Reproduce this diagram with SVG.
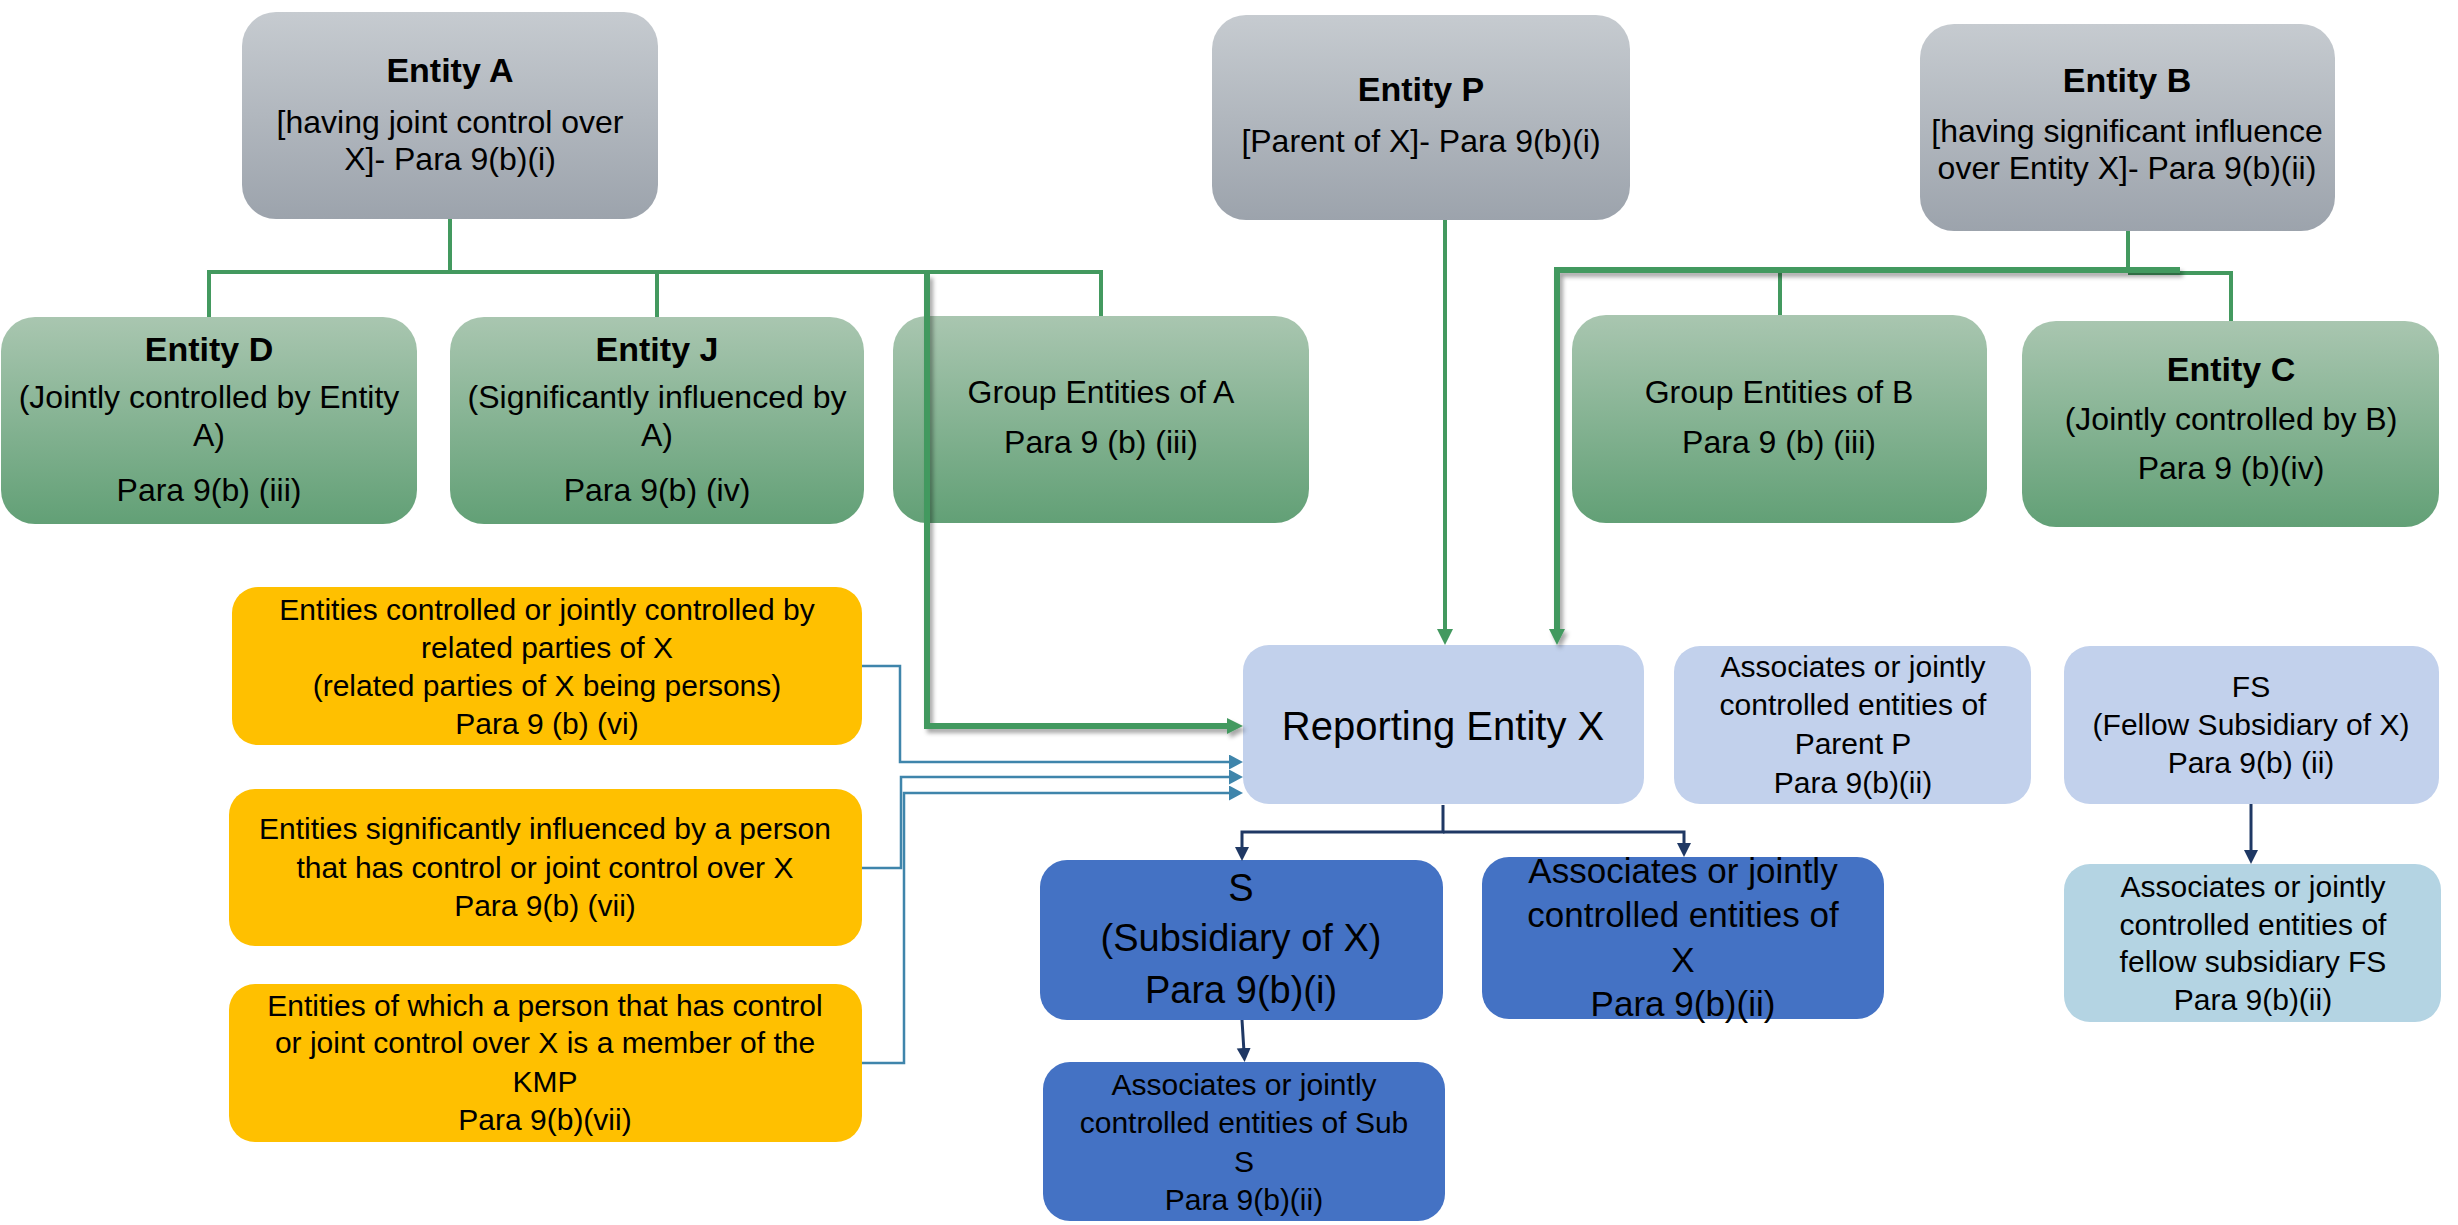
<svg xmlns="http://www.w3.org/2000/svg" width="2458" height="1225" viewBox="0 0 2458 1225">
  <style>
    text { font-family: "Liberation Sans", Arial, sans-serif; fill: #000; text-anchor: middle; }
    .title { font-weight: bold; font-size: 34px; }
    .f32 { font-size: 32px; }
    .f30 { font-size: 30px; }
    .f35 { font-size: 35px; }
    .f38 { font-size: 38px; }
    .f40 { font-size: 40px; }
    .gray { fill: url(#gradGray); }
    .green { fill: url(#gradGreen); }
    .yellow { fill: #ffc000; }
    .pale { fill: #c2d1ec; }
    .royal { fill: #4472c4; }
    .ice { fill: #b4d4e3; }
    .gline { fill: none; stroke: #43995f; stroke-width: 4; }
    .gthick { fill: none; stroke: #43995f; stroke-width: 6; filter: url(#shadow); }
    .bline { fill: none; stroke: #3f85ab; stroke-width: 2.5; }
    .nline { fill: none; stroke: #1f3864; stroke-width: 3; }
  </style>
  <defs>
    <linearGradient id="gradGray" x1="0" y1="0" x2="0" y2="1">
      <stop offset="0" stop-color="#c6cbd0"/>
      <stop offset="1" stop-color="#9ca3ac"/>
    </linearGradient>
    <linearGradient id="gradGreen" x1="0" y1="0" x2="0" y2="1">
      <stop offset="0" stop-color="#a9c6b0"/>
      <stop offset="1" stop-color="#62a076"/>
    </linearGradient>
    <filter id="shadow" x="-20%" y="-20%" width="140%" height="140%">
      <feDropShadow dx="3" dy="4" stdDeviation="2" flood-color="#000" flood-opacity="0.35"/>
    </filter>
    <marker id="arrGreen" markerUnits="userSpaceOnUse" markerWidth="18" markerHeight="18" refX="6" refY="8" orient="auto">
      <path d="M0,0 L16,8 L0,16 z" fill="#43995f"/>
    </marker>
    <marker id="arrBlue" markerUnits="userSpaceOnUse" markerWidth="16" markerHeight="16" refX="4" refY="7.5" orient="auto">
      <path d="M0,0 L14,7.5 L0,15 z" fill="#3f85ab"/>
    </marker>
    <marker id="arrNavy" markerUnits="userSpaceOnUse" markerWidth="16" markerHeight="16" refX="4" refY="7" orient="auto">
      <path d="M0,0 L14,7 L0,14 z" fill="#1f3864"/>
    </marker>
  </defs>

  <rect width="2458" height="1225" fill="#fff"/>

  <g id="entity-a">
    <rect class="gray" x="242" y="12" width="416" height="207" rx="34"/>
    <text class="title" x="450" y="82">Entity A</text>
    <text class="f32" x="450" y="133">[having joint control over</text>
    <text class="f32" x="450" y="170">X]- Para 9(b)(i)</text>
  </g>

  <g id="entity-p">
    <rect class="gray" x="1212" y="15" width="418" height="205" rx="34"/>
    <text class="title" x="1421" y="101">Entity P</text>
    <text class="f32" x="1421" y="152">[Parent of X]- Para 9(b)(i)</text>
  </g>

  <g id="entity-b">
    <rect class="gray" x="1920" y="24" width="415" height="207" rx="34"/>
    <text class="title" x="2127" y="92">Entity B</text>
    <text class="f32" x="2127" y="142">[having significant influence</text>
    <text class="f32" x="2127" y="179">over Entity X]- Para 9(b)(ii)</text>
  </g>

  <g id="entity-d">
    <rect class="green" x="1" y="317" width="416" height="207" rx="34"/>
    <text class="title" x="209" y="361">Entity D</text>
    <text class="f32" x="209" y="408">(Jointly controlled by Entity</text>
    <text class="f32" x="209" y="446">A)</text>
    <text class="f32" x="209" y="501">Para 9(b) (iii)</text>
  </g>

  <g id="entity-j">
    <rect class="green" x="450" y="317" width="414" height="207" rx="34"/>
    <text class="title" x="657" y="361">Entity J</text>
    <text class="f32" x="657" y="408">(Significantly influenced by</text>
    <text class="f32" x="657" y="446">A)</text>
    <text class="f32" x="657" y="501">Para 9(b) (iv)</text>
  </g>

  <g id="group-a">
    <rect class="green" x="893" y="316" width="416" height="207" rx="34"/>
    <text class="f32" x="1101" y="403">Group Entities of A</text>
    <text class="f32" x="1101" y="453">Para 9 (b) (iii)</text>
  </g>

  <g id="group-b">
    <rect class="green" x="1572" y="315" width="415" height="208" rx="34"/>
    <text class="f32" x="1779" y="403">Group Entities of B</text>
    <text class="f32" x="1779" y="453">Para 9 (b) (iii)</text>
  </g>

  <g id="entity-c">
    <rect class="green" x="2022" y="321" width="417" height="206" rx="34"/>
    <text class="title" x="2231" y="381">Entity C</text>
    <text class="f32" x="2231" y="430">(Jointly controlled by B)</text>
    <text class="f32" x="2231" y="479">Para 9 (b)(iv)</text>
  </g>

  <g id="persons-controlled">
    <rect class="yellow" x="232" y="587" width="630" height="158" rx="26"/>
    <text class="f30" x="547" y="620">Entities controlled or jointly controlled by</text>
    <text class="f30" x="547" y="658">related parties of X</text>
    <text class="f30" x="547" y="696">(related parties of X being persons)</text>
    <text class="f30" x="547" y="734">Para 9 (b) (vi)</text>
  </g>

  <g id="persons-influenced">
    <rect class="yellow" x="229" y="789" width="633" height="157" rx="26"/>
    <text class="f30" x="545" y="839">Entities significantly influenced by a person</text>
    <text class="f30" x="545" y="878">that has control or joint control over X</text>
    <text class="f30" x="545" y="916">Para 9(b) (vii)</text>
  </g>

  <g id="persons-kmp">
    <rect class="yellow" x="229" y="984" width="633" height="158" rx="26"/>
    <text class="f30" x="545" y="1016">Entities of which a person that has control</text>
    <text class="f30" x="545" y="1053">or joint control over X is a member of the</text>
    <text class="f30" x="545" y="1092">KMP</text>
    <text class="f30" x="545" y="1130">Para 9(b)(vii)</text>
  </g>

  <g id="reporting-x">
    <rect class="pale" x="1243" y="645" width="401" height="159" rx="26"/>
    <text class="f40" x="1443" y="740">Reporting Entity X</text>
  </g>

  <g id="assoc-parent">
    <rect class="pale" x="1674" y="646" width="357" height="158" rx="26"/>
    <text class="f30" x="1853" y="677">Associates or jointly</text>
    <text class="f30" x="1853" y="715">controlled entities of</text>
    <text class="f30" x="1853" y="754">Parent P</text>
    <text class="f30" x="1853" y="793">Para 9(b)(ii)</text>
  </g>

  <g id="fellow-sub">
    <rect class="pale" x="2064" y="646" width="375" height="158" rx="26"/>
    <text class="f30" x="2251" y="697">FS</text>
    <text class="f30" x="2251" y="735">(Fellow Subsidiary of X)</text>
    <text class="f30" x="2251" y="773">Para 9(b) (ii)</text>
  </g>

  <g id="subsidiary-s">
    <rect class="royal" x="1040" y="860" width="403" height="160" rx="27"/>
    <text class="f38" x="1241" y="901">S</text>
    <text class="f38" x="1241" y="951">(Subsidiary of X)</text>
    <text class="f38" x="1241" y="1003">Para 9(b)(i)</text>
  </g>

  <g id="assoc-x">
    <rect class="royal" x="1482" y="857" width="402" height="162" rx="27"/>
    <text class="f35" x="1683" y="883">Associates or jointly</text>
    <text class="f35" x="1683" y="927">controlled entities of</text>
    <text class="f35" x="1683" y="972">X</text>
    <text class="f35" x="1683" y="1016">Para 9(b)(ii)</text>
  </g>

  <g id="assoc-sub-s">
    <rect class="royal" x="1043" y="1062" width="402" height="159" rx="27"/>
    <text class="f30" x="1244" y="1095">Associates or jointly</text>
    <text class="f30" x="1244" y="1133">controlled entities of Sub</text>
    <text class="f30" x="1244" y="1172">S</text>
    <text class="f30" x="1244" y="1210">Para 9(b)(ii)</text>
  </g>

  <g id="assoc-fellow-sub">
    <rect class="ice" x="2064" y="864" width="377" height="158" rx="26"/>
    <text class="f30" x="2253" y="897">Associates or jointly</text>
    <text class="f30" x="2253" y="935">controlled entities of</text>
    <text class="f30" x="2253" y="972">fellow subsidiary FS</text>
    <text class="f30" x="2253" y="1010">Para 9(b)(ii)</text>
  </g>

  <!-- connectors, drawn above the boxes -->
  <g id="connectors">
    <!-- Entity A to its group -->
    <path class="gline" d="M450 219 V272"/>
    <path class="gline" d="M209 317 V272 H1101 V316"/>
    <path class="gline" d="M657 272 V317"/>
    <!-- Entity B to its group -->
    <path class="gline" d="M2128 231 V270"/>
    <path class="gline" d="M1780 270 V315"/>
    <path class="gline" d="M2128 273 H2231 V321"/>
    <!-- Entity P to X -->
    <path class="gline" d="M1445 220 V635" marker-end="url(#arrGreen)"/>
    <!-- A side and B side into X -->
    <path class="gthick" d="M927 274 V726 H1233" marker-end="url(#arrGreen)"/>
    <path class="gthick" d="M2180 270 H1557 V635" marker-end="url(#arrGreen)"/>
    <!-- persons' entities into X -->
    <path class="bline" d="M862 666 H900 V762 H1233" marker-end="url(#arrBlue)"/>
    <path class="bline" d="M862 868 H901 V777 H1233" marker-end="url(#arrBlue)"/>
    <path class="bline" d="M862 1063 H904 V793 H1233" marker-end="url(#arrBlue)"/>
    <!-- X down to its investees -->
    <path class="nline" d="M1443 805 V832 H1242 V851" marker-end="url(#arrNavy)"/>
    <path class="nline" d="M1443 832 H1684 V847" marker-end="url(#arrNavy)"/>
    <path class="nline" d="M1242 1020 L1244 1052" marker-end="url(#arrNavy)"/>
    <path class="nline" d="M2251 804 V854" marker-end="url(#arrNavy)"/>
  </g>
</svg>
